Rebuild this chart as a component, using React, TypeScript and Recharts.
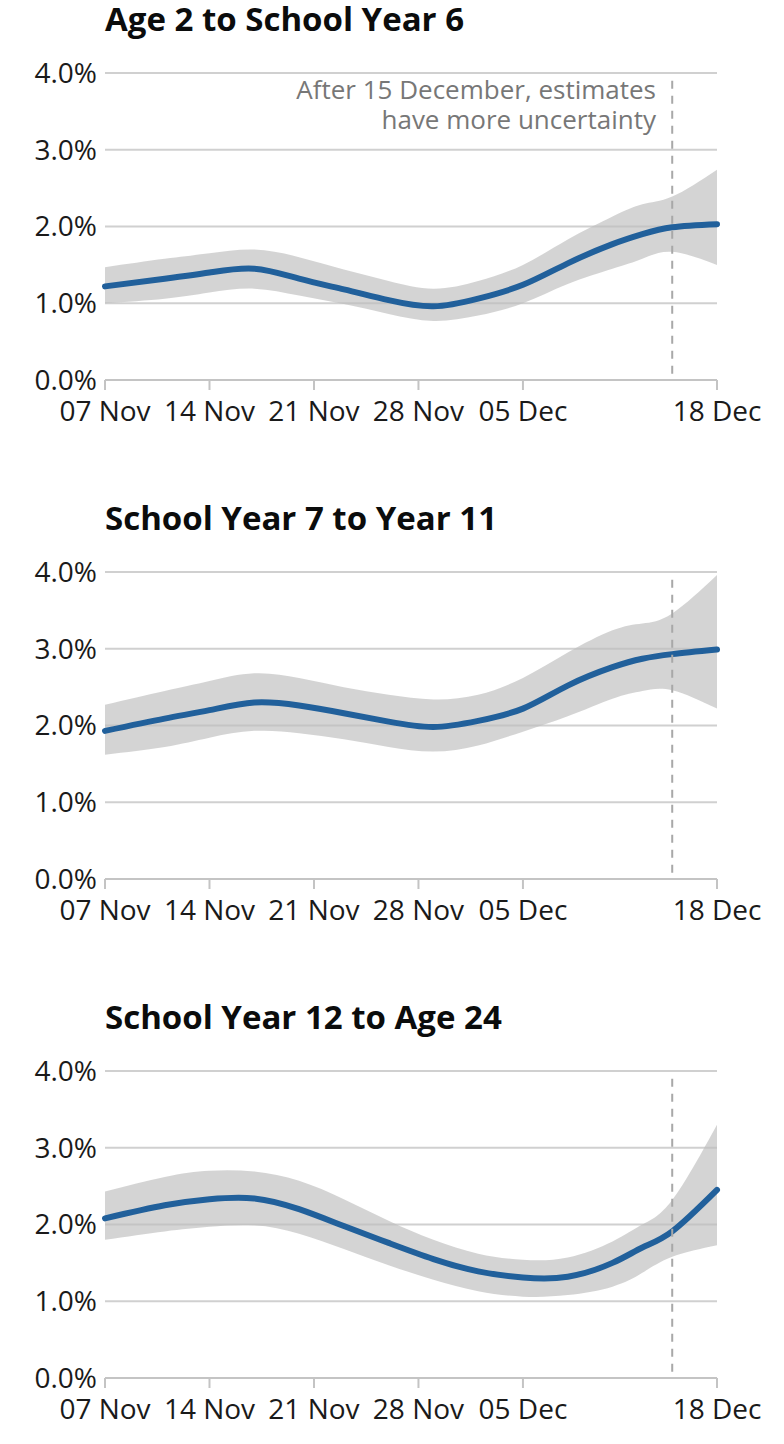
import React from 'react';
import {
  ComposedChart,
  Area,
  Line,
  XAxis,
  YAxis,
  CartesianGrid,
  ReferenceLine,
} from 'recharts';

const sampleDays = [0, 4, 7, 10, 13, 16, 19, 22, 25, 28, 31, 34, 36, 38, 41];

// X axis ticks
const xTickDays = [0, 7, 14, 21, 28, 41];
const xTickLabels = ['07 Nov', '14 Nov', '21 Nov', '28 Nov', '05 Dec', '18 Dec'];
const yTicks = [0, 1, 2, 3, 4];
const uncertaintyDay = 38; // 15 Dec

const panelTitles = ['Age 2 to School Year 6', 'School Year 7 to Year 11', 'School Year 12 to Age 24'];
const noteLines = ['After 15 December, estimates', 'have more uncertainty'];

// Age 2 to School Year 6
const earlyEstimate = [1.22, 1.32, 1.40, 1.45, 1.32, 1.18, 1.04, 0.96, 1.06, 1.24, 1.52, 1.77, 1.90, 1.99, 2.03];
const earlyUpper = [1.47, 1.58, 1.65, 1.70, 1.60, 1.44, 1.29, 1.19, 1.29, 1.50, 1.83, 2.13, 2.29, 2.39, 2.74];
const earlyLower = [1.00, 1.06, 1.14, 1.19, 1.10, 0.99, 0.86, 0.77, 0.84, 1.00, 1.25, 1.45, 1.58, 1.67, 1.50];

// School Year 7 to Year 11
const midEstimate = [1.93, 2.09, 2.20, 2.30, 2.26, 2.16, 2.05, 1.98, 2.06, 2.22, 2.52, 2.76, 2.87, 2.93, 2.99];
const midUpper = [2.27, 2.45, 2.58, 2.68, 2.62, 2.50, 2.40, 2.34, 2.40, 2.62, 2.95, 3.24, 3.33, 3.46, 3.96];
const midLower = [1.62, 1.72, 1.84, 1.93, 1.90, 1.82, 1.72, 1.66, 1.74, 1.92, 2.12, 2.35, 2.45, 2.46, 2.22];

// School Year 12 to Age 24
const lateEstimate = [2.08, 2.25, 2.33, 2.34, 2.20, 1.98, 1.76, 1.55, 1.39, 1.31, 1.32, 1.50, 1.70, 1.91, 2.45];
const lateUpper = [2.43, 2.62, 2.70, 2.69, 2.57, 2.33, 2.05, 1.80, 1.62, 1.54, 1.57, 1.78, 2.00, 2.32, 3.30];
const lateLower = [1.80, 1.91, 1.97, 1.99, 1.88, 1.68, 1.47, 1.28, 1.13, 1.06, 1.08, 1.19, 1.37, 1.58, 1.73];

const series = [
  { estimate: earlyEstimate, upper: earlyUpper, lower: earlyLower },
  { estimate: midEstimate, upper: midUpper, lower: midLower },
  { estimate: lateEstimate, upper: lateUpper, lower: lateLower },
];

const FONT = '"Open Sans", "Noto Sans", sans-serif';
const PANEL_STEP = 499;

function buildRows(s: { estimate: number[]; upper: number[]; lower: number[] }) {
  return sampleDays.map((day, i) => ({
    day,
    estimate: s.estimate[i],
    range: [s.lower[i], s.upper[i]],
  }));
}

function Panel({ index }: { index: number }) {
  const top = index * PANEL_STEP;
  const rows = buildRows(series[index]);
  return (
    <>
      <div
        style={{
          position: 'absolute',
          left: 105,
          top: top,
          fontFamily: FONT,
          fontWeight: 700,
          fontSize: 33,
          lineHeight: '38px',
          color: '#0b0c0c',
          whiteSpace: 'nowrap',
        }}
      >
        {panelTitles[index]}
      </div>
      {index === 0 &&
        noteLines.map((line, i) => (
          <div
            key={line}
            style={{
              position: 'absolute',
              right: 784 - 656,
              top: 74 + i * 30,
              height: 30,
              fontFamily: FONT,
              fontSize: 26,
              lineHeight: '30px',
              color: '#777777',
              textAlign: 'right',
              whiteSpace: 'nowrap',
            }}
          >
            {line}
          </div>
        ))}
      <div style={{ position: 'absolute', left: 0, top: top + 53 }}>
        <ComposedChart
          width={784}
          height={377}
          data={rows}
          margin={{ top: 20, right: 67, bottom: 0, left: 8 }}
        >
          <CartesianGrid vertical={false} stroke="#d0d0d0" strokeWidth={2} />
          <XAxis
            dataKey="day"
            type="number"
            domain={[0, 41]}
            ticks={xTickDays}
            interval={0}
            tickFormatter={(d: number) => xTickLabels[xTickDays.indexOf(d)]}
            height={50}
            stroke="#c4c4c4"
            strokeWidth={2}
            tickSize={10}
            tickMargin={11}
            tick={{ fill: '#1a1a1a', fontSize: 28, fontFamily: FONT }}
          />
          <YAxis
            type="number"
            domain={[0, 4]}
            ticks={yTicks}
            interval={0}
            width={97}
            axisLine={false}
            tickLine={false}
            tickSize={0}
            tickMargin={8}
            tickFormatter={(v: number) => `${v.toFixed(1)}%`}
            tick={{ fill: '#1a1a1a', fontSize: 28, fontFamily: FONT }}
          />
          <Area
            type="natural"
            dataKey="range"
            stroke="none"
            fill="#bdbdbd"
            fillOpacity={0.65}
            isAnimationActive={false}
            activeDot={false}
          />
          <Line
            type="natural"
            dataKey="estimate"
            stroke="#21609b"
            strokeWidth={6}
            strokeLinecap="round"
            dot={false}
            activeDot={false}
            isAnimationActive={false}
          />
          <ReferenceLine
            segment={[
              { x: uncertaintyDay, y: 3.9 },
              { x: uncertaintyDay, y: 0 },
            ]}
            stroke="#a8a8a8"
            strokeWidth={2}
            strokeDasharray="8 7"
          />
        </ComposedChart>
      </div>
    </>
  );
}

export default function App() {
  return (
    <div
      style={{
        position: 'absolute',
        left: 0,
        top: 0,
        width: 784,
        height: 1444,
        background: '#ffffff',
        overflow: 'hidden',
      }}
    >
      {panelTitles.map((_, i) => (
        <Panel key={i} index={i} />
      ))}
    </div>
  );
}
